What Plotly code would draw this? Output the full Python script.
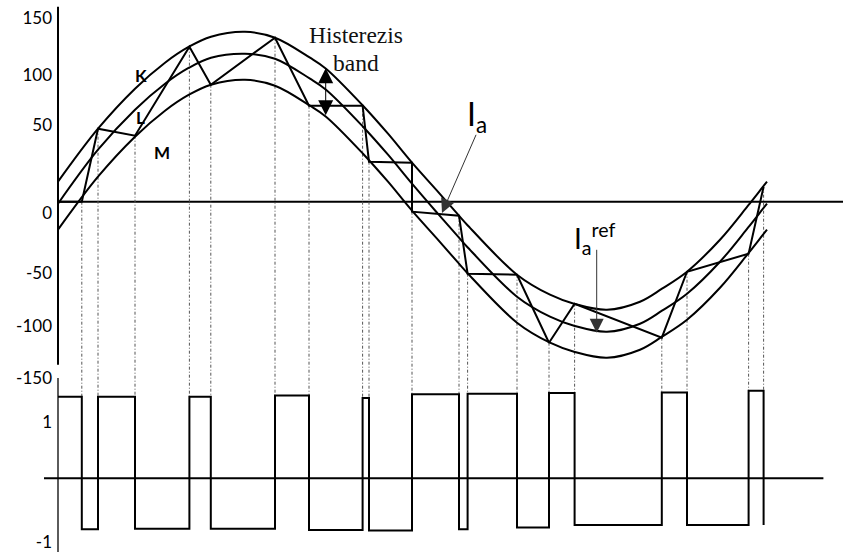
import plotly.graph_objects as go

# ---------------- data ----------------
# electrical angle (deg) for the band curves
theta = [-1, 19, 37.5, 52.5, 64.5, 75.5, 92.5, 107.5, 125, 133, 151.5, 164, 176,
         188.5, 199.5, 204, 228.5, 245, 257, 273.5, 290, 301, 313.5, 330, 344,
         351.5, 353.5]
band_K = [20, 73, 113, 139, 155, 165, 170, 164, 144, 133, 96, 68, 39, 11, -14, -24,
          -73, -93, -102, -108, -100, -87, -70, -38, -4, 15, 20]
ref_L = [-2, 52, 92, 118, 134, 144, 148, 143, 123, 112, 75, 47, 18, -11, -36, -46,
         -95, -115, -124, -130, -122, -109, -92, -60, -26, -7, -2]
band_M = [-28, 25, 65, 91, 107, 117, 122, 116, 96, 85, 48, 20, -9, -37, -62, -72,
          -121, -141, -150, -156, -148, -135, -118, -86, -52, -33, -28]

# actual current trajectory Ia (vertices)
ia_theta = [0, 10.9, 19.0, 37.5, 64.7, 75.4, 107.5, 124.5, 151.3, 154.5, 176, 176,
            199.5, 203.8, 228.5, 244.5, 257.3, 300.9, 313.5, 344.3, 351.8]
ia_val = [0, 0, 73, 66, 155, 117, 164, 96, 96, 40, 39, -10, -14, -72, -73, -141,
          -102, -136, -70, -52, 15]

# switching instants and switch-state levels (lower trace)
sw_theta = [10.9, 19.0, 37.5, 64.7, 75.4, 107.5, 124.5, 151.3, 154.5, 176, 199.5,
            203.8, 228.5, 244.5, 257.3, 300.9, 313.5, 344.3, 351.8]
sw_level = [1.36, -0.85, 1.36, -0.84, 1.36, -0.84, 1.38, -0.86, 1.34, -0.87, 1.40,
            -0.85, 1.41, -0.82, 1.42, -0.78, 1.43, -0.78, 1.46, -0.78]
sw_start = -1

# tick labels
cur_tick_text = ['150', '100', '50', '0', '-50', '-100', '-150']
cur_tick_pos = [183.4, 126.7, 76.7, -11.3, -71.3, -124.3, -176.6]
sw_tick_text = ['1', '-1']
sw_tick_pos = [0.93, -1.07]

# ---------------- frame ----------------
W, H = 843, 554
X_RANGE = [-8, 391.5]
Y1_RANGE = [-352.3, 201.7]
Y2_RANGE = [-1.2617, 7.9717]
AXIS_X = -1
UPPER_AXIS = [195, -163]
LOWER_AXIS = [1.67, -1.23]
LOWER_ZERO_X = [-8, 381.7]


def sw_to_cur(v):
    f = (v - Y2_RANGE[0]) / (Y2_RANGE[1] - Y2_RANGE[0])
    return Y1_RANGE[0] + f * (Y1_RANGE[1] - Y1_RANGE[0])


BLACK = '#000000'
fig = go.Figure()

# axis lines and zero lines
fig.add_trace(go.Scatter(x=[AXIS_X, AXIS_X], y=UPPER_AXIS, mode='lines',
                         line=dict(color=BLACK, width=2), hoverinfo='skip'))
fig.add_trace(go.Scatter(x=[AXIS_X, AXIS_X], y=LOWER_AXIS, yaxis='y2', mode='lines',
                         line=dict(color='#333333', width=1.6), hoverinfo='skip'))
fig.add_trace(go.Scatter(x=[AXIS_X, X_RANGE[1]], y=[0, 0], mode='lines',
                         line=dict(color=BLACK, width=2), hoverinfo='skip'))
fig.add_trace(go.Scatter(x=LOWER_ZERO_X, y=[0, 0], yaxis='y2', mode='lines',
                         line=dict(color=BLACK, width=2), hoverinfo='skip'))

# dotted projection lines from switching points down to the pulses
last_val = {}
for t, v in zip(ia_theta, ia_val):
    last_val[t] = v
dx, dy = [], []
for i, t in enumerate(sw_theta):
    top = last_val[t]
    bottom = sw_to_cur(max(sw_level[i], sw_level[i + 1]))
    dx += [t, t, None]
    dy += [top, bottom, None]
fig.add_trace(go.Scatter(x=dx, y=dy, mode='lines',
                         line=dict(color='#555555', width=1, dash='3px,2px,1px,2px'),
                         hoverinfo='skip'))

# band curves
for vals in (band_K, ref_L, band_M):
    fig.add_trace(go.Scatter(x=theta, y=vals, mode='lines',
                             line=dict(color=BLACK, width=2, shape='spline', smoothing=1),
                             hoverinfo='skip'))

# current trajectory
fig.add_trace(go.Scatter(x=ia_theta, y=ia_val, mode='lines',
                         line=dict(color=BLACK, width=2), hoverinfo='skip'))

# switching pulses
px_, py_ = [sw_start], [sw_level[0]]
for i, t in enumerate(sw_theta):
    px_ += [t, t]
    py_ += [sw_level[i], sw_level[i + 1]]
fig.add_trace(go.Scatter(x=px_, y=py_, yaxis='y2', mode='lines',
                         line=dict(color=BLACK, width=2), hoverinfo='skip'))

# ---------------- texts and arrows ----------------
sans = 'Lato, "Open Sans", sans-serif'
serif = '"Liberation Serif", "DejaVu Serif", serif'
ann = []
for txt, x, y in (('K', 40.4, 126.5), ('L', 40.2, 84), ('M', 51.2, 49)):
    ann.append(dict(text='<b>%s</b>' % txt, x=x, y=y, xref='x', yref='y', showarrow=False,
                    font=dict(family=sans, size=17, color=BLACK)))
ann.append(dict(text='Histerezis', x=148, y=166.7, xref='x', yref='y', showarrow=False,
                font=dict(family=serif, size=23.5, color='#111111')))
ann.append(dict(text='band', x=148, y=139, xref='x', yref='y', showarrow=False,
                font=dict(family=serif, size=23.5, color='#111111')))
ann.append(dict(text='I<sub>a</sub>', x=202.5, y=86, xref='x', yref='y', showarrow=False,
                xanchor='left', yanchor='middle',
                font=dict(family=sans, size=32, color=BLACK)))
ann.append(dict(text='I<sub>a</sub><sup>ref</sup>', x=256, y=-37, xref='x', yref='y',
                showarrow=False, xanchor='left', yanchor='middle',
                font=dict(family=sans, size=28, color=BLACK)))
# arrows
ann.append(dict(text='', x=191, y=-11.3, ax=208.35, ay=68.4, xref='x', yref='y',
                axref='x', ayref='y', showarrow=True, arrowhead=2, arrowsize=2.8,
                arrowwidth=1, arrowcolor='#333333', standoff=0))
ann.append(dict(text='', x=268.35, y=-131, ax=268.35, ay=-46.6, xref='x', yref='y',
                axref='x', ayref='y', showarrow=True, arrowhead=2, arrowsize=2.8,
                arrowwidth=1, arrowcolor='#333333', standoff=0))
ann.append(dict(text='', x=132.85, y=133.4, ax=132.85, ay=85, xref='x', yref='y',
                axref='x', ayref='y', showarrow=True, arrowhead=2, arrowsize=3,
                arrowside='end+start', startarrowhead=2, startarrowsize=3,
                arrowwidth=1, arrowcolor=BLACK, standoff=0, startstandoff=0))

axis_pos = (AXIS_X - X_RANGE[0]) / (X_RANGE[1] - X_RANGE[0])
tickfont = dict(family=sans, size=17, color=BLACK)
fig.update_layout(
    width=W, height=H, showlegend=False,
    paper_bgcolor='white', plot_bgcolor='white',
    margin=dict(l=44, r=0, t=0, b=0, pad=0),
    xaxis=dict(range=X_RANGE, visible=False, fixedrange=True),
    yaxis=dict(range=Y1_RANGE, showgrid=False, zeroline=False, showline=False,
               tickvals=cur_tick_pos, ticktext=cur_tick_text, ticks='',
               anchor='free', position=axis_pos, tickfont=tickfont,
               ticklabelstandoff=6, automargin=False),
    yaxis2=dict(range=Y2_RANGE, overlaying='y', side='left', showgrid=False,
                zeroline=False, showline=False, tickvals=sw_tick_pos,
                ticktext=sw_tick_text, ticks='', anchor='free', position=axis_pos,
                tickfont=tickfont, ticklabelstandoff=6, automargin=False),
    annotations=ann,
)
fig.write_html('out.html', config={'displayModeBar': False},
               post_script="document.body.style.margin='0';document.body.style.overflow='hidden';")
